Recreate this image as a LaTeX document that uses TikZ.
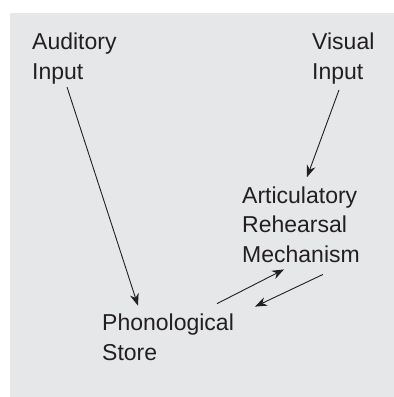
\documentclass[tikz,border=0pt]{standalone}
\usepackage{fontspec}
\setmainfont{Liberation Sans}
\usepackage{tikz}
\usetikzlibrary{arrows.meta}
\definecolor{panel}{RGB}{230,231,233}
\definecolor{ink}{RGB}{35,31,32}

\tikzset{
    box/.style={anchor=base west, inner sep=0pt, align=left, text=ink,
                font=\fontsize{23}{29.5}\selectfont},
    arr/.style={draw=ink, line width=0.9pt, -{Stealth[length=12pt,width=9pt]}}
}

\begin{document}
\begin{tikzpicture}[x=1pt,y=-1pt]
    \useasboundingbox (0,0) rectangle (394,397);
    \fill[panel] (10,13) rectangle (394,397);

    % base anchor sits on the last line
    \node[box] (aud) at (32,79) {Auditory\\Input};
    \node[box] (vis) at (312,79) {Visual\\Input};
    \node[box] (art) at (242,262) {Articulatory\\Rehearsal\\Mechanism};
    \node[box] (pho) at (102,360) {Phonological\\Store};

    \draw[arr] ([xshift=35pt,yshift=-3pt]aud.south west) -- ([xshift=36pt,yshift=8pt]pho.north west);
    \draw[arr] ([xshift=27pt,yshift=-6pt]vis.south west) -- ([xshift=65pt,yshift=9pt]art.north west);
    \draw[arr] ([xshift=115pt,yshift=10pt]pho.north west) -- ([xshift=42pt,yshift=-7pt]art.south west);
    \draw[arr] ([xshift=81pt,yshift=-12pt]art.south west) -- ([xshift=153pt,yshift=7pt]pho.north west);
\end{tikzpicture}
\end{document}
